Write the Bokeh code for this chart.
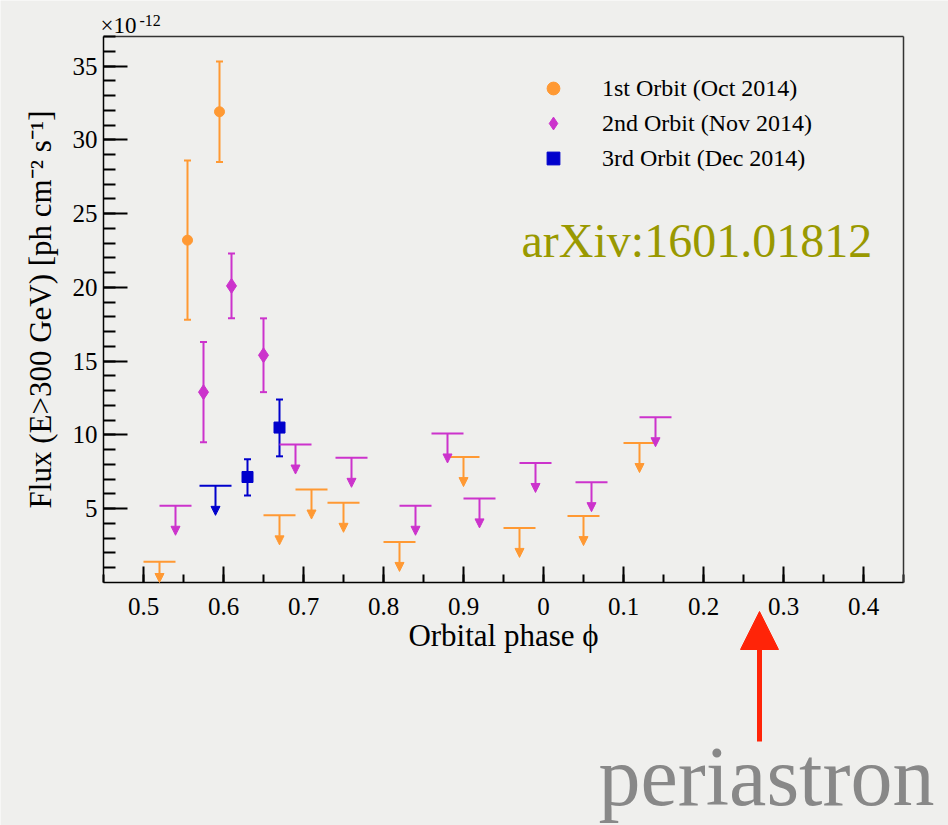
import numpy as np
from bokeh.plotting import figure
from bokeh.models import (ColumnDataSource, Whisker, TeeHead, Arrow, NormalHead,
                          Label, Legend, LegendItem, FixedTicker, Range1d, LinearAxis)
from bokeh.embed import file_html
from bokeh.resources import INLINE

# Flux above 300 GeV, in units of 1e-12 ph cm^-2 s^-1, versus orbital phase (0-1)
orbit1_phase = [0.555, 0.595]
orbit1_flux = [23.2, 31.9]
orbit1_flux_lo = [17.8, 28.5]
orbit1_flux_hi = [28.6, 35.3]
orbit1_ul_phase = [0.52, 0.67, 0.71, 0.75, 0.82, 0.90, 0.97, 0.05, 0.12]
orbit1_ul_flux = [1.4, 4.55, 6.3, 5.4, 2.75, 8.5, 3.7, 4.5, 9.45]

orbit2_phase = [0.575, 0.61, 0.65]
orbit2_flux = [12.9, 20.1, 15.4]
orbit2_flux_lo = [9.5, 17.9, 12.9]
orbit2_flux_hi = [16.3, 22.3, 17.9]
orbit2_ul_phase = [0.54, 0.69, 0.76, 0.84, 0.88, 0.92, 0.99, 0.06, 0.14]
orbit2_ul_flux = [5.2, 9.35, 8.45, 5.2, 10.1, 5.7, 8.1, 6.8, 11.2]

orbit3_phase = [0.63, 0.67]
orbit3_flux = [7.15, 10.5]
orbit3_flux_lo = [5.9, 8.55]
orbit3_flux_hi = [8.35, 12.4]
orbit3_ul_phase = [0.59]
orbit3_ul_flux = [6.55]

series_labels = ["1st Orbit (Oct 2014)", "2nd Orbit (Nov 2014)", "3rd Orbit (Dec 2014)"]

periastron_phase = 0.27

phase_ticks = [0.5, 0.6, 0.7, 0.8, 0.9, 0.0, 0.1, 0.2, 0.3, 0.4]
phase_tick_labels = ["0.5", "0.6", "0.7", "0.8", "0.9", "0", "0.1", "0.2", "0.3", "0.4"]
flux_ticks = [5, 10, 15, 20, 25, 30, 35]

# ---- layout & styling ----
W, H = 948, 825
PHASE_START = 0.45          # phase axis runs 0.45 -> 1.45 (wraps through 0)
PHASE_END = PHASE_START + 1.0
FLUX_MAX = 37
BOX_LEFT, BOX_RIGHT = 103, 903      # data box on the canvas (px)
BOX_TOP, BOX_BOTTOM = 36, 582
UL_HALF_WIDTH = 0.02        # half width of the upper-limit bar
UL_ARROW = 2.0              # arrow length below an upper limit (flux units)
BG = "#EFEFED"
SERIF = "Liberation Serif"
DESCENT = 0.216             # serif descent, fraction of the font size
ORANGE, MAGENTA, BLUE = "#FF9933", "#CC33CC", "#0000CC"
RED = "#FF2408"

# the plotting frame fills the whole canvas; the data box sits inside it,
# so the annotations around the box stay within the frame
sx = (BOX_RIGHT - BOX_LEFT) / (PHASE_END - PHASE_START)
sy = (BOX_BOTTOM - BOX_TOP) / FLUX_MAX
x_range = Range1d(PHASE_START - BOX_LEFT / sx, PHASE_START + (W - BOX_LEFT) / sx)
y_range = Range1d(-(H - BOX_BOTTOM) / sy, FLUX_MAX + BOX_TOP / sy)


def unwrap(phase):
    ph = np.asarray(phase, dtype=float)
    return np.round(np.where(ph < PHASE_START, ph + 1.0, ph), 4)


def px_to_x(px):
    return PHASE_START + (px - BOX_LEFT) / sx


def py_to_y(py):
    return (BOX_BOTTOM - py) / sy


def text_label(text, left_px, baseline_px, size, color="black"):
    # Label anchored on the bottom of its text box, placed from the text baseline
    return Label(x=px_to_x(left_px), y=py_to_y(baseline_px + DESCENT * size), text=text,
                 text_font=SERIF, text_font_size=f"{size}px", text_color=color,
                 text_baseline="bottom", text_align="left")


p = figure(width=W, height=H, x_range=x_range, y_range=y_range,
           x_axis_location=None, y_axis_location=None,
           output_backend="svg", toolbar_location=None,
           min_border=0, min_border_left=0, min_border_right=0,
           min_border_top=0, min_border_bottom=0,
           background_fill_color=BG, border_fill_color=BG,
           outline_line_color=None)
p.grid.visible = False

xt = [float(v) for v in unwrap(phase_ticks)]
xaxis = LinearAxis(fixed_location=0, bounds=(PHASE_START, PHASE_END),
                   ticker=FixedTicker(ticks=xt,
                                      minor_ticks=[round(PHASE_START + 0.05 * i, 4) for i in range(21)]),
                   major_label_overrides={t: lab for t, lab in zip(xt, phase_tick_labels)},
                   axis_label="Orbital phase \u03d5",
                   major_tick_in=16, major_tick_out=0, minor_tick_in=8, minor_tick_out=0,
                   major_label_standoff=15, axis_label_standoff=0)
yaxis = LinearAxis(fixed_location=PHASE_START, bounds=(0, FLUX_MAX),
                   ticker=FixedTicker(ticks=flux_ticks, minor_ticks=list(range(1, FLUX_MAX + 1))),
                   axis_label="Flux (E>300 GeV) [ph cm\u207b\u00b2 s\u207b\u00b9]",
                   major_tick_in=24, major_tick_out=0, minor_tick_in=12, minor_tick_out=0,
                   major_label_standoff=6, axis_label_standoff=12)
for ax in (xaxis, yaxis):
    ax.axis_line_color = "black"
    ax.axis_line_width = 1.5
    ax.major_tick_line_color = "black"
    ax.minor_tick_line_color = "black"
    ax.major_tick_line_width = 2
    ax.minor_tick_line_width = 2
    ax.major_label_text_font = SERIF
    ax.major_label_text_font_size = "25px"
    ax.major_label_text_color = "black"
    ax.axis_label_text_font = SERIF
    ax.axis_label_text_font_size = "31px"
    ax.axis_label_text_font_style = "normal"
    ax.axis_label_text_color = "black"
p.add_layout(xaxis, "below")
p.add_layout(yaxis, "left")

# closing edges of the data box (no ticks)
top_edge = LinearAxis(fixed_location=FLUX_MAX, bounds=(PHASE_START, PHASE_END),
                      ticker=FixedTicker(ticks=[]), major_label_text_font_size="0px",
                      axis_line_color="#333333", axis_line_width=1.5)
right_edge = LinearAxis(fixed_location=PHASE_END, bounds=(0, FLUX_MAX),
                        ticker=FixedTicker(ticks=[]), major_label_text_font_size="0px",
                        axis_line_color="#333333", axis_line_width=1.5)
p.add_layout(top_edge, "above")
p.add_layout(right_edge, "right")

series = [
    (orbit1_phase, orbit1_flux, orbit1_flux_lo, orbit1_flux_hi, orbit1_ul_phase, orbit1_ul_flux,
     ORANGE, "circle", 10),
    (orbit2_phase, orbit2_flux, orbit2_flux_lo, orbit2_flux_hi, orbit2_ul_phase, orbit2_ul_flux,
     MAGENTA, "diamond", 15),
    (orbit3_phase, orbit3_flux, orbit3_flux_lo, orbit3_flux_hi, orbit3_ul_phase, orbit3_ul_flux,
     BLUE, "square", 11),
]

legend_items = []
for (ph, fl, lo, hi, ulph, ulfl, color, marker, size), label in zip(series, series_labels):
    # upper limits: bar plus downward arrow
    ulx = unwrap(ulph)
    uly = np.asarray(ulfl, dtype=float)
    ul_src = ColumnDataSource(dict(x=ulx, x0=ulx - UL_HALF_WIDTH, x1=ulx + UL_HALF_WIDTH,
                                   ul=uly, tip=np.maximum(uly - UL_ARROW, 0.0)))
    p.segment(x0="x0", y0="ul", x1="x1", y1="ul", source=ul_src,
              line_color=color, line_width=2)
    p.add_layout(Arrow(source=ul_src, x_start="x", y_start="ul", x_end="x", y_end="tip",
                       line_color=color, line_width=2,
                       end=NormalHead(size=9, fill_color=color, line_color=color, line_width=1)))

    # detections with error bars
    src = ColumnDataSource(dict(x=unwrap(ph), y=fl, lo=lo, hi=hi))
    p.add_layout(Whisker(source=src, base="x", lower="lo", upper="hi",
                         line_color=color, line_width=2,
                         upper_head=TeeHead(size=7, line_color=color, line_width=2),
                         lower_head=TeeHead(size=7, line_color=color, line_width=2)))
    r = p.scatter(x="x", y="y", source=src, marker=marker, size=size,
                  fill_color=color, line_color=color)
    legend_items.append(LegendItem(label=label, renderers=[r]))

legend = Legend(items=legend_items, location=(537, H - 174),
                glyph_width=32, glyph_height=32, label_height=24, spacing=3,
                label_standoff=33, padding=0, margin=0,
                label_text_font=SERIF, label_text_font_size="24px",
                label_text_color="black",
                background_fill_alpha=0, border_line_alpha=0)
p.add_layout(legend)

# axis multiplier above the box
p.add_layout(text_label("\u00d710", 100, 33, 23))
p.add_layout(text_label("-12", 139, 22, 16))

# reference tag
p.add_layout(text_label("arXiv:1601.01812", 521, 256, 48, "#999900"))

# periastron marker below the phase axis
peri_x = float(unwrap([periastron_phase])[0])
p.add_layout(Arrow(x_start=peri_x, y_start=py_to_y(741), x_end=peri_x, y_end=py_to_y(611),
                   line_color=RED, line_width=5,
                   end=NormalHead(size=38, fill_color=RED, line_color=RED)))
p.add_layout(text_label("periastron", 598, 804, 84, "#888888"))

open("out.html", "w").write(file_html(p, INLINE))
